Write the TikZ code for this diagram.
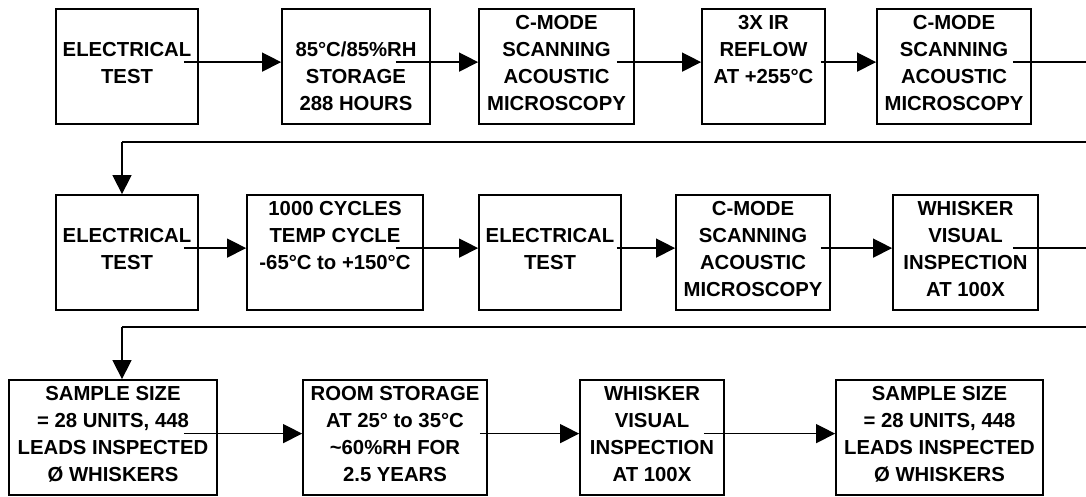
\documentclass[tikz,border=0pt]{standalone}
\usepackage{fontspec}
\setmainfont{Liberation Sans}
\usetikzlibrary{arrows.meta,calc}
\newcommand\firststrut{\rule{0pt}{18pt}}
\begin{document}
\begin{tikzpicture}[x=1pt,y=-1pt,
 box/.style={draw, line width=1.8pt, inner sep=0pt, minimum height=115pt},
 txt/.style={anchor=north, inner sep=0pt, align=center, font=\bfseries\fontsize{20.3}{27}\selectfont},
 arr/.style={line width=1.4pt, -{Triangle[length=19pt,width=19pt]}},
 ln/.style={line width=1.4pt},
 longln/.style={line width=1.8pt}]
\useasboundingbox[fill=white] (0,0) rectangle (1086,496);
% row 1
\node[box, minimum width=142pt] (b11) at (127,66.5) {};
\node[box, minimum width=148pt] (b12) at (356,66.5) {};
\node[box, minimum width=155pt] (b13) at (556.5,66.5) {};
\node[box, minimum width=123pt] (b14) at (763.5,66.5) {};
\node[box, minimum width=154pt] (b15) at (954,66.5) {};
% row 2
\node[box, minimum width=142pt] (b21) at (127,252.5) {};
\node[box, minimum width=176pt] (b22) at (335,252.5) {};
\node[box, minimum width=142pt] (b23) at (550,252.5) {};
\node[box, minimum width=154pt] (b24) at (753,252.5) {};
\node[box, minimum width=145pt] (b25) at (965.5,252.5) {};
% row 3
\node[box, minimum width=208pt] (b31) at (113,437.5) {};
\node[box, minimum width=184pt] (b32) at (395,437.5) {};
\node[box, minimum width=144pt] (b33) at (652,437.5) {};
\node[box, minimum width=207pt] (b34) at (939.5,437.5) {};
% texts
\node[txt] (t11) at ($(b11.north)+(0,3.3)$) {\firststrut\\ELECTRICAL\\TEST};
\node[txt] (t12) at ($(b12.north)+(0,3.3)$) {\firststrut\\85°C/85\%RH\\STORAGE\\288 HOURS};
\node[txt] (t13) at ($(b13.north)+(0,3.3)$) {\firststrut C-MODE\\SCANNING\\ACOUSTIC\\MICROSCOPY};
\node[txt] (t14) at ($(b14.north)+(0,3.3)$) {\firststrut 3X IR\\REFLOW\\AT +255°C};
\node[txt] (t15) at ($(b15.north)+(0,3.3)$) {\firststrut C-MODE\\SCANNING\\ACOUSTIC\\MICROSCOPY};
\node[txt] (t21) at ($(b21.north)+(0,3.3)$) {\firststrut\\ELECTRICAL\\TEST};
\node[txt] (t22) at ($(b22.north)+(0,3.3)$) {\firststrut 1000 CYCLES\\TEMP CYCLE\\-65°C to +150°C};
\node[txt] (t23) at ($(b23.north)+(0,3.3)$) {\firststrut\\ELECTRICAL\\TEST};
\node[txt] (t24) at ($(b24.north)+(0,3.3)$) {\firststrut C-MODE\\SCANNING\\ACOUSTIC\\MICROSCOPY};
\node[txt] (t25) at ($(b25.north)+(0,3.3)$) {\firststrut WHISKER\\VISUAL\\INSPECTION\\AT 100X};
\node[txt] (t31) at ($(b31.north)+(0,3.6)$) {\firststrut SAMPLE SIZE\\= 28 UNITS, 448\\LEADS INSPECTED\\Ø WHISKERS};
\node[txt] (t32) at ($(b32.north)+(0,3.6)$) {\firststrut ROOM STORAGE\\AT 25° to 35°C\\\textasciitilde60\%RH FOR\\2.5 YEARS};
\node[txt] (t33) at ($(b33.north)+(0,3.6)$) {\firststrut WHISKER\\VISUAL\\INSPECTION\\AT 100X};
\node[txt] (t34) at ($(b34.north)+(0,3.6)$) {\firststrut SAMPLE SIZE\\= 28 UNITS, 448\\LEADS INSPECTED\\Ø WHISKERS};
% connector start points
\coordinate (s11) at ($(b11.north east)+(-15,54)$);
\coordinate (s12) at ($(b12.north east)+(-35,54)$);
\coordinate (s13) at ($(b13.north east)+(-18,54)$);
\coordinate (s14) at ($(b14.north east)+(-5,54)$);
\coordinate (s15) at ($(b15.north east)+(-19,54)$);
\coordinate (s21) at ($(b21.north east)+(-15,54)$);
\coordinate (s22) at ($(b22.north east)+(-28,54)$);
\coordinate (s23) at ($(b23.north east)+(-5,54)$);
\coordinate (s24) at ($(b24.north east)+(-10,54)$);
\coordinate (s25) at ($(b25.north east)+(-26,54)$);
\coordinate (s31) at ($(b31.north east)+(-34,54.5)$);
\coordinate (s32) at ($(b32.north east)+(-8,54.5)$);
\coordinate (s33) at ($(b33.north east)+(-21,54.5)$);
\coordinate (e2) at (1086,142);
\coordinate (k1) at (122,142);
\coordinate (e4) at (1086,327);
\coordinate (k2) at (122,327);
% row 1 connectors
\draw[arr] (s11) -- (s11 -| b12.west);
\draw[arr] (s12) -- (s12 -| b13.west);
\draw[arr] (s13) -- (s13 -| b14.west);
\draw[arr] (s14) -- (s14 -| b15.west);
\draw[ln] (s15) -- (s15 -| e2);
\draw[longln] (e2) -- (k1);
\draw[arr] (k1) -- (k1 |- b21.north);
% row 2 connectors
\draw[arr] (s21) -- (s21 -| b22.west);
\draw[arr] (s22) -- (s22 -| b23.west);
\draw[arr] (s23) -- (s23 -| b24.west);
\draw[arr] (s24) -- (s24 -| b25.west);
\draw[ln] (s25) -- (s25 -| e4);
\draw[longln] (e4) -- (k2);
\draw[arr] (k2) -- (k2 |- b31.north);
% row 3 connectors
\draw[arr] (s31) -- (s31 -| b32.west);
\draw[arr] (s32) -- (s32 -| b33.west);
\draw[arr] (s33) -- (s33 -| b34.west);
\end{tikzpicture}
\end{document}
